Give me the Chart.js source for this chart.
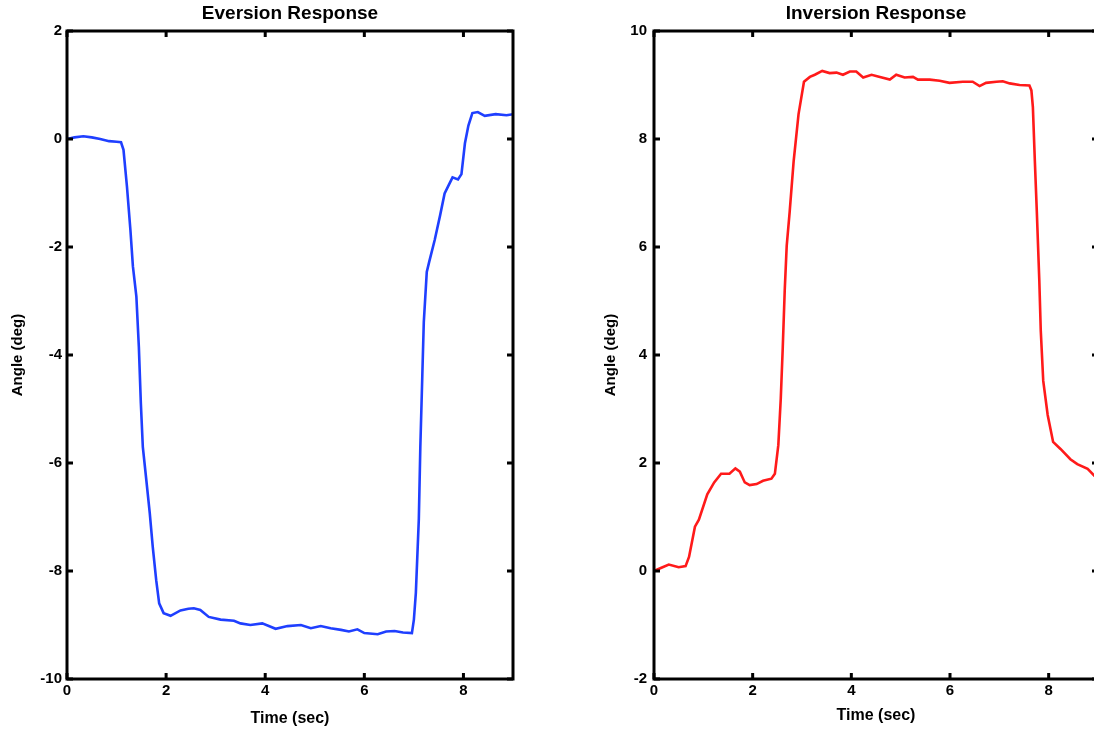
<!DOCTYPE html>
<html>
<head>
<meta charset="utf-8">
<script src="https://cdn.jsdelivr.net/npm/chart.js@4.4.1/dist/chart.umd.min.js"></script>
<style>
  html, body { margin: 0; padding: 0; background: #fff; overflow: hidden; }
  #page { position: relative; width: 1094px; height: 732px; overflow: hidden; }
  .box { position: absolute; top: 0; height: 732px; }
</style>
</head>
<body>
<div id="page">
  <div class="box" style="left:0;width:580px"><canvas id="eversion"></canvas></div>
  <div class="box" style="left:600px;width:552px"><canvas id="inversion"></canvas></div>
</div>
<script>
// values
const xTicks = [0, 2, 4, 6, 8];
const eversionYTicks = [-10, -8, -6, -4, -2, 0, 2];
const inversionYTicks = [-2, 0, 2, 4, 6, 8, 10];

const eversionTime = [0, 0.15, 0.33, 0.5, 0.67, 0.85, 1.0, 1.09, 1.14, 1.21, 1.28, 1.33, 1.4, 1.45, 1.49, 1.53,
  1.6, 1.67, 1.73, 1.8, 1.86, 1.95, 2.09, 2.29, 2.45, 2.56, 2.69, 2.86, 3.1, 3.37, 3.5, 3.7, 3.94, 4.21, 4.45,
  4.72, 4.92, 5.12, 5.32, 5.53, 5.69, 5.86, 6.0, 6.27, 6.44, 6.61, 6.78, 6.96, 7.0, 7.04, 7.1, 7.13, 7.17, 7.2,
  7.26, 7.31, 7.42, 7.53, 7.62, 7.71, 7.78, 7.89, 7.96, 8.03, 8.1, 8.18, 8.29, 8.43, 8.65, 8.87, 9.0];
const eversionAngle = [0, 0.03, 0.05, 0.03, 0, -0.04, -0.05, -0.06, -0.2, -0.88, -1.69, -2.36, -2.92, -3.85, -4.89, -5.7,
  -6.31, -6.93, -7.55, -8.17, -8.6, -8.78, -8.83, -8.73, -8.7, -8.69, -8.72, -8.85, -8.9, -8.92, -8.97, -9.0, -8.97, -9.07, -9.02,
  -9.0, -9.06, -9.02, -9.06, -9.09, -9.12, -9.08, -9.15, -9.17, -9.12, -9.11, -9.14, -9.15, -8.9, -8.4, -7.03, -5.7, -4.38, -3.39,
  -2.46, -2.27, -1.87, -1.41, -1.01, -0.84, -0.71, -0.75, -0.65, -0.08, 0.25, 0.48, 0.5, 0.43, 0.46, 0.44, 0.46];

const inversionTime = [0, 0.15, 0.3, 0.5, 0.64, 0.71, 0.83, 0.91, 1.08, 1.22, 1.36, 1.53, 1.65, 1.74, 1.84, 1.94,
  2.08, 2.21, 2.38, 2.45, 2.52, 2.57, 2.61, 2.65, 2.69, 2.75, 2.83, 2.93, 3.04, 3.16, 3.26, 3.41, 3.56, 3.7, 3.83,
  3.97, 4.1, 4.24, 4.41, 4.58, 4.78, 4.91, 5.08, 5.25, 5.35, 5.59, 5.79, 5.99, 6.26, 6.46, 6.6, 6.73, 6.94, 7.07,
  7.21, 7.41, 7.61, 7.65, 7.68, 7.72, 7.76, 7.81, 7.84, 7.89, 7.98, 8.09, 8.24, 8.44, 8.58, 8.79, 8.93, 9.0];
const inversionAngle = [0, 0.06, 0.12, 0.07, 0.09, 0.26, 0.82, 0.95, 1.42, 1.64, 1.8, 1.8, 1.9, 1.84, 1.64, 1.59,
  1.61, 1.67, 1.71, 1.8, 2.33, 3.2, 4.14, 5.2, 6.02, 6.65, 7.58, 8.46, 9.06, 9.15, 9.19, 9.26, 9.22, 9.23, 9.19,
  9.25, 9.25, 9.14, 9.19, 9.15, 9.1, 9.19, 9.14, 9.15, 9.1, 9.1, 9.08, 9.04, 9.06, 9.06, 8.98, 9.04, 9.06, 9.07,
  9.03, 9.0, 8.99, 8.9, 8.59, 7.59, 6.65, 5.39, 4.45, 3.52, 2.89, 2.39, 2.26, 2.07, 1.98, 1.89, 1.76, 1.72];

const FONT = "'Liberation Sans', Arial, Helvetica, sans-serif";

// matlab style box with inward ticks on all four sides
const boxPlugin = {
  id: 'matlabBox',
  afterDatasetsDraw(chart) {
    const { ctx, chartArea: a, scales: { x, y } } = chart;
    const len = 6;
    ctx.save();
    ctx.strokeStyle = '#000';
    ctx.lineWidth = 3;
    ctx.beginPath();
    x.ticks.forEach(t => {
      const px = x.getPixelForValue(t.value);
      ctx.moveTo(px, a.bottom); ctx.lineTo(px, a.bottom - len);
      ctx.moveTo(px, a.top); ctx.lineTo(px, a.top + len);
    });
    y.ticks.forEach(t => {
      const py = y.getPixelForValue(t.value);
      ctx.moveTo(a.left, py); ctx.lineTo(a.left + len, py);
      ctx.moveTo(a.right, py); ctx.lineTo(a.right - len, py);
    });
    ctx.stroke();
    ctx.strokeRect(a.left, a.top, a.right - a.left, a.bottom - a.top);
    ctx.restore();
  }
};

function makeChart(id, title, times, angles, color, yTicks, opts) {
  return new Chart(document.getElementById(id), {
    type: 'line',
    data: {
      datasets: [{
        data: times.map((t, i) => ({ x: t, y: angles[i] })),
        borderColor: color,
        borderWidth: 2.6,
        pointRadius: 0,
        tension: 0,
      }],
    },
    options: {
      responsive: true,
      maintainAspectRatio: false,
      animation: false,
      layout: { padding: { left: 0, right: opts.right, top: 0, bottom: 0 } },
      plugins: {
        legend: { display: false },
        tooltip: { enabled: false },
      },
      scales: {
        // top axis only carries the plot title, so it centres over the plot box
        top: {
          type: 'linear',
          position: 'top',
          min: 0,
          max: 9,
          afterFit: s => { s.height = 31; },
          grid: { display: false, drawTicks: false },
          border: { display: false },
          ticks: { display: false },
          title: {
            display: true,
            text: title,
            color: '#000',
            font: { family: FONT, size: 19, weight: 'bold' },
            padding: { top: 2, bottom: 0 },
          },
        },
        x: {
          type: 'linear',
          min: 0,
          max: 9,
          afterBuildTicks: s => { s.ticks = xTicks.map(v => ({ value: v })); },
          afterFit: s => { s.height = 53; },
          grid: { display: false, drawTicks: false, tickLength: 0 },
          border: { display: false },
          ticks: {
            color: '#000',
            padding: 3,
            maxRotation: 0,
            font: { family: FONT, size: 15, weight: 'bold' },
          },
          title: {
            display: true,
            text: 'Time (sec)',
            color: '#000',
            font: { family: FONT, size: 16, weight: 'bold' },
            padding: { top: 0, bottom: opts.xTitleBottom },
          },
        },
        y: {
          type: 'linear',
          min: yTicks[0],
          max: yTicks[yTicks.length - 1],
          afterBuildTicks: s => { s.ticks = yTicks.map(v => ({ value: v })); },
          afterFit: s => { s.width = opts.yWidth; },
          grid: { display: false, drawTicks: false, tickLength: 0 },
          border: { display: false },
          ticks: {
            color: '#000',
            padding: opts.yTickPad,
            font: { family: FONT, size: 15, weight: 'bold' },
          },
          title: {
            display: true,
            text: 'Angle (deg)',
            color: '#000',
            font: { family: FONT, size: 15, weight: 'bold' },
            padding: { top: opts.yTitleTop, bottom: 0 },
          },
        },
      },
    },
    plugins: [boxPlugin],
  });
}

makeChart('eversion', 'Eversion Response', eversionTime, eversionAngle, '#1f3fff', eversionYTicks,
  { right: 67, yWidth: 67, yTitleTop: 9, yTickPad: 5, xTitleBottom: 4 });
makeChart('inversion', 'Inversion Response', inversionTime, inversionAngle, '#ff1a1a', inversionYTicks,
  { right: 54, yWidth: 54, yTitleTop: 2, yTickPad: 7, xTitleBottom: 7 });
</script>
</body>
</html>
